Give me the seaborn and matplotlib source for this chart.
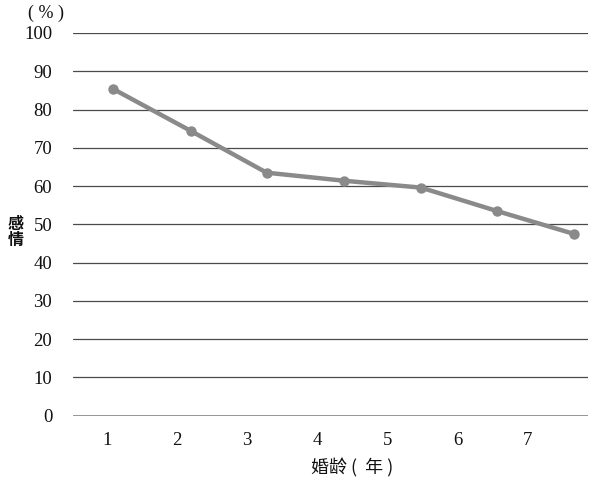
import matplotlib
matplotlib.use("Agg")
import matplotlib.pyplot as plt
import seaborn as sns
import pandas as pd

# data
years = [1, 2, 3, 4, 5, 6, 7]
x_positions = [1.09, 2.20, 3.28, 4.38, 5.48, 6.56, 7.66]
affection = [85.4, 74.4, 63.5, 61.4, 59.6, 53.5, 47.5]
y_ticks = [0, 10, 20, 30, 40, 50, 60, 70, 80, 90, 100]

sns.set_theme(style="white")
plt.rcParams['font.family'] = ['Noto Sans CJK SC', 'DejaVu Sans']

df = pd.DataFrame({"x": x_positions, "y": affection})

fig = plt.figure(figsize=(6.0, 4.84), dpi=100)
W, H = 600, 484
left, right, top, bottom = 73, 588, 33, 415.7
ax = fig.add_axes([left / W, 1 - bottom / H, (right - left) / W, (bottom - top) / H])

for t in y_ticks[1:]:
    ax.axhline(t, color="#4a4a4a", lw=0.9, zorder=1)
ax.axhline(0, color="#8c8c8c", lw=2.0, zorder=1)

sns.lineplot(data=df, x="x", y="y", ax=ax, color="#8a8a8a", lw=3.2,
             marker="o", markersize=7.5, markeredgewidth=0, zorder=3)

ax.set_xlim(0.52, 7.86)
ax.set_ylim(0, 100)
ax.set_xticks(years)
ax.set_xticklabels([str(y) for y in years])
ax.set_yticks(y_ticks)
ax.set_yticklabels([str(t) for t in y_ticks])
for s in ax.spines.values():
    s.set_visible(False)
ax.tick_params(axis="both", length=0, labelsize=13.5, colors="#111111")
ax.tick_params(axis="y", pad=15)
ax.tick_params(axis="x", pad=12)
for lab in ax.get_xticklabels() + ax.get_yticklabels():
    lab.set_family("Liberation Serif")
ax.set_xlabel("")
ax.set_ylabel("")

fig.text(311 / W, 1 - 468 / H, "婚龄 (  年 )", ha="left", va="center",
         fontsize=13, color="#111111", fontweight="medium")
fig.text(16 / W, 1 - 232 / H, "感\n情", ha="center", va="center",
         fontsize=11.5, color="#111111", fontweight="bold", linespacing=1.05)
fig.text(45.5 / W, 1 - 13 / H, "( % )", ha="center", va="center",
         fontsize=13, color="#111111", family="Liberation Serif")

fig.savefig("out.png", dpi=100)
